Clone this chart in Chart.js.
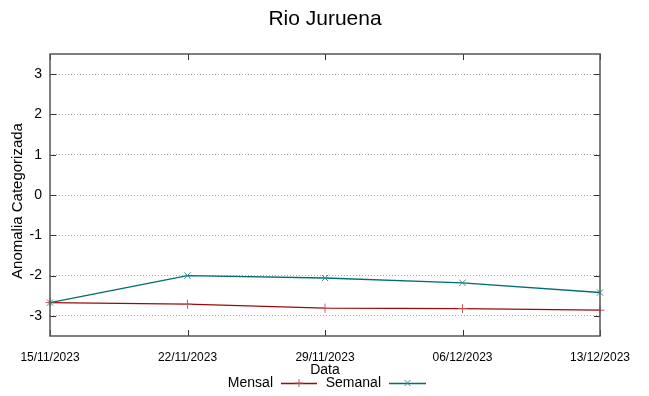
<!DOCTYPE html>
<html>
<head>
<meta charset="utf-8">
<script src="https://cdn.jsdelivr.net/npm/chart.js@4.4.0/dist/chart.umd.min.js"></script>
<style>
  html, body { margin: 0; padding: 0; background: #fff; }
  #wrap { width: 649px; height: 396px; }
</style>
</head>
<body>
<div id="wrap"><canvas id="grafico" width="649" height="396"></canvas></div>
<script>
// Dados
const datas = ['15/11/2023', '22/11/2023', '29/11/2023', '06/12/2023', '13/12/2023'];
const mensal = [-2.67, -2.71, -2.81, -2.82, -2.86];
const semanal = [-2.67, -2.00, -2.06, -2.18, -2.42];
const yTicks = [-3, -2, -1, 0, 1, 2, 3];

const corMensal = '#9b0a0a';
const corSemanal = '#006d70';
const marcaMensal = '#c85a5a';
const marcaSemanal = '#3a8f92';
const fonte = '"Liberation Sans", Arial, sans-serif';

// Moldura, marcas internas, titulos e legenda no estilo gnuplot
const estiloGnuplot = {
    id: 'estiloGnuplot',
    afterDraw(chart) {
        const ctx = chart.ctx;
        const a = chart.chartArea;
        const x = chart.scales.x, y = chart.scales.y;
        ctx.save();
        // marcas
        ctx.strokeStyle = '#333';
        ctx.lineWidth = 1;
        ctx.beginPath();
        datas.forEach((d, i) => {
            const px = Math.round(x.getPixelForValue(i)) + 0.5;
            ctx.moveTo(px, a.bottom); ctx.lineTo(px, a.bottom - 6);
            ctx.moveTo(px, a.top); ctx.lineTo(px, a.top + 6);
        });
        yTicks.forEach(v => {
            const py = Math.round(y.getPixelForValue(v)) + 0.5;
            ctx.moveTo(a.left, py); ctx.lineTo(a.left + 6, py);
            ctx.moveTo(a.right, py); ctx.lineTo(a.right - 6, py);
        });
        ctx.stroke();
        // moldura
        ctx.strokeStyle = '#555';
        ctx.lineWidth = 1.5;
        ctx.strokeRect(a.left, a.top, a.right - a.left, a.bottom - a.top);

        // titulo
        ctx.fillStyle = '#000';
        ctx.textAlign = 'center';
        ctx.textBaseline = 'middle';
        ctx.font = '21px ' + fonte;
        ctx.fillText('Rio Juruena', 325, 19);

        // eixo x
        ctx.font = '14px ' + fonte;
        ctx.fillText('Data', 325, 370);

        // eixo y
        ctx.save();
        ctx.translate(18, 201);
        ctx.rotate(-Math.PI / 2);
        ctx.font = '15px ' + fonte;
        ctx.fillText('Anomalia Categorizada', 0, 0);
        ctx.restore();

        // legenda
        const itens = [
            { ds: 0, fimTexto: 273, x0: 281, x1: 317 },
            { ds: 1, fimTexto: 381, x0: 389, x1: 426 }
        ];
        const ly = 383;
        itens.forEach(it => {
            const ds = chart.data.datasets[it.ds];
            ctx.fillStyle = '#000';
            ctx.textAlign = 'right';
            ctx.font = '14px ' + fonte;
            ctx.fillText(ds.label, it.fimTexto, ly);
            ctx.strokeStyle = ds.borderColor;
            ctx.lineWidth = 1.3;
            ctx.beginPath();
            ctx.moveTo(it.x0, ly + 0.5); ctx.lineTo(it.x1, ly + 0.5);
            ctx.stroke();
            const cx = (it.x0 + it.x1) / 2;
            ctx.strokeStyle = ds.pointBorderColor;
            ctx.lineWidth = 1;
            ctx.beginPath();
            if (ds.pointStyle === 'cross') {
                ctx.moveTo(cx - 4, ly); ctx.lineTo(cx + 4, ly);
                ctx.moveTo(cx, ly - 4); ctx.lineTo(cx, ly + 4);
            } else {
                ctx.moveTo(cx - 3, ly - 3); ctx.lineTo(cx + 3, ly + 3);
                ctx.moveTo(cx - 3, ly + 3); ctx.lineTo(cx + 3, ly - 3);
            }
            ctx.stroke();
        });
        ctx.restore();
    }
};

new Chart(document.getElementById('grafico'), {
    type: 'line',
    data: {
        labels: datas,
        datasets: [
            { label: 'Mensal', data: mensal, borderColor: corMensal, backgroundColor: corMensal,
              pointBorderColor: marcaMensal, borderWidth: 1.3, pointStyle: 'cross', pointRadius: 4.5,
              pointBorderWidth: 1, tension: 0, order: 0 },
            { label: 'Semanal', data: semanal, borderColor: corSemanal, backgroundColor: corSemanal,
              pointBorderColor: marcaSemanal, borderWidth: 1.3, pointStyle: 'crossRot', pointRadius: 4.5,
              pointBorderWidth: 1, tension: 0, order: -1 }
        ]
    },
    options: {
        responsive: false,
        animation: false,
        devicePixelRatio: 1,
        layout: { padding: { left: 0, right: 49, top: 54, bottom: 0 } },
        plugins: { legend: { display: false }, title: { display: false }, tooltip: { enabled: false } },
        scales: {
            x: {
                type: 'category',
                offset: false,
                grid: { display: false, drawTicks: false },
                border: { display: false },
                ticks: { color: '#000', font: { family: fonte, size: 12 }, padding: 14, maxRotation: 0, autoSkip: false },
                afterFit(s) { s.height = 60; }
            },
            y: {
                min: -3.5,
                max: 3.5,
                afterBuildTicks(s) { s.ticks = yTicks.map(v => ({ value: v })); },
                grid: { color: '#aaa', drawTicks: false, lineWidth: 1 },
                border: { display: false, dash: [1, 2] },
                ticks: { color: '#000', font: { family: fonte, size: 14 }, padding: 8 },
                afterFit(s) { s.width = 50; }
            }
        }
    },
    plugins: [estiloGnuplot]
});
</script>
</body>
</html>
